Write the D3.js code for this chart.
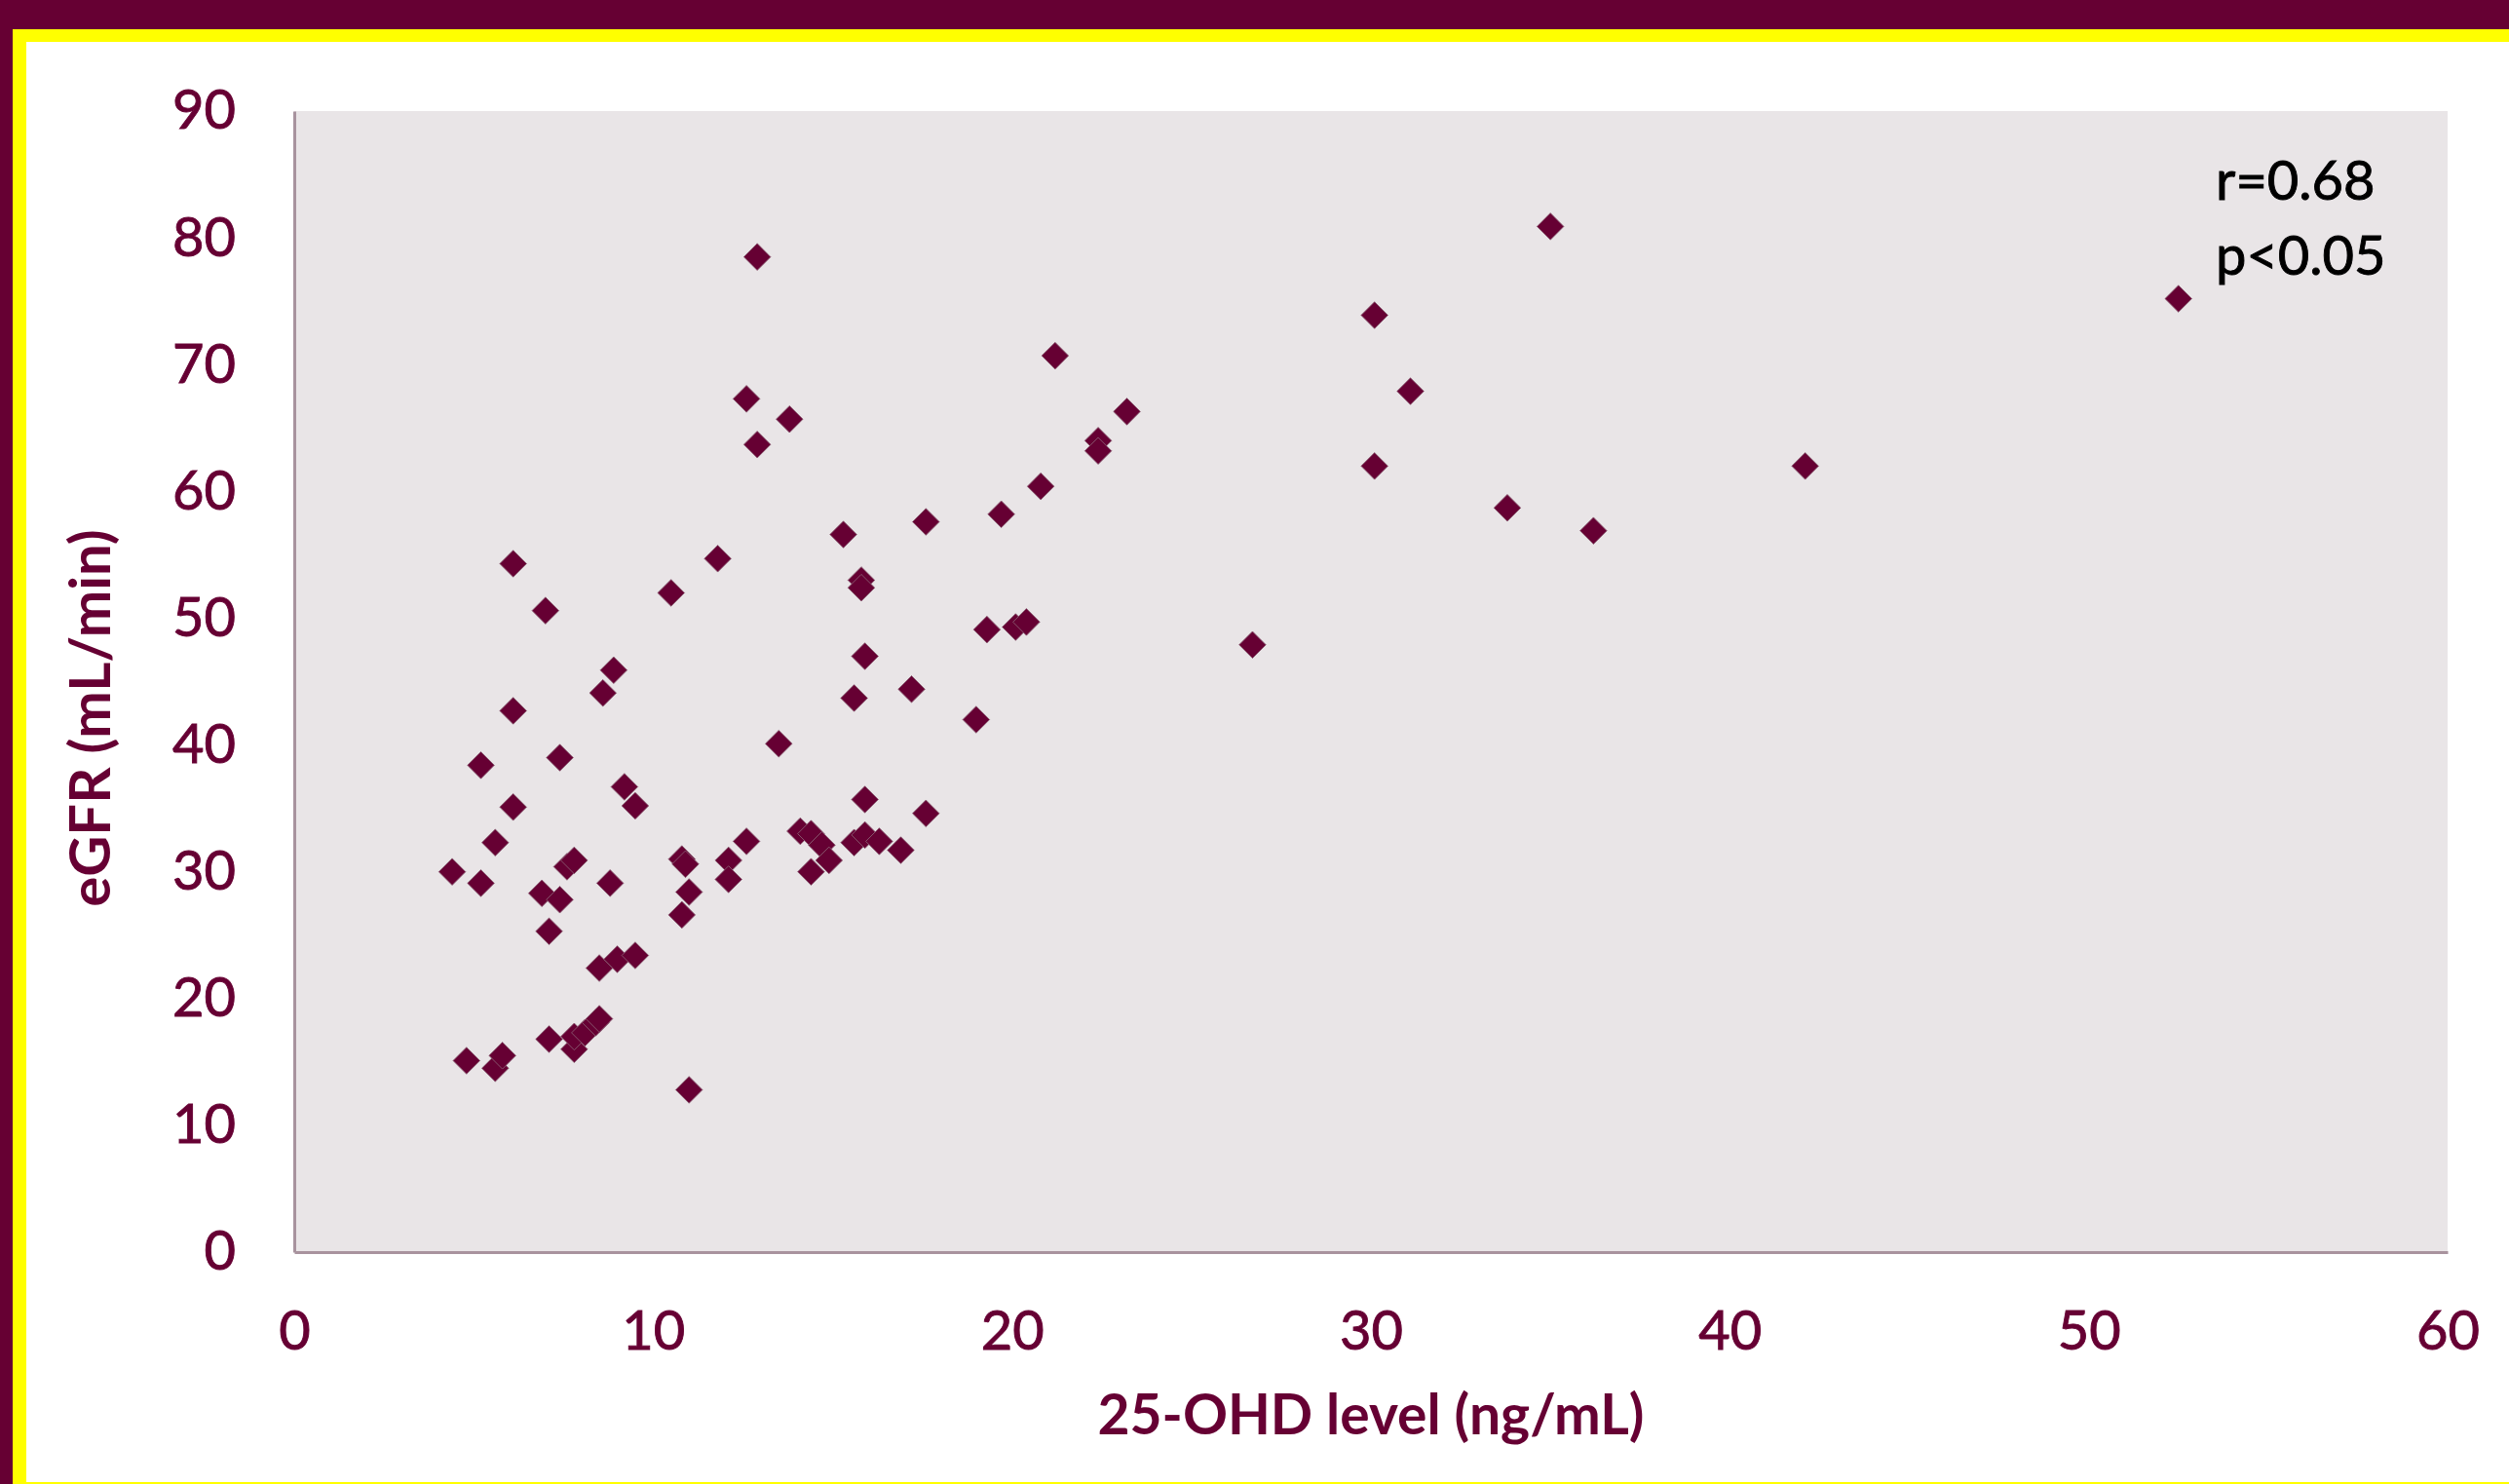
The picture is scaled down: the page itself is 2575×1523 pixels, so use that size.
<!DOCTYPE html>
<html>
<head>
<meta charset="utf-8">
<script src="https://cdn.jsdelivr.net/npm/d3@7"></script>
<style>
  body { margin: 0; background: #660033; }
  svg  { display: block; }
</style>
</head>
<body>
<svg id="chart"></svg>
<script>
// ── Data ─────────────────────────────────────────────
const ohdLevel = [
  4.4, 4.8, 5.2, 5.2, 5.6, 5.8, 5.6, 6.1, 6.1, 6.1,
  7.0, 6.9, 7.1, 7.1, 7.4, 7.4, 7.6, 7.8, 7.8, 7.8,
  8.1, 8.4, 8.5, 8.5, 8.8, 8.6, 8.9, 9.0, 9.2, 9.5,
  9.5, 10.5, 10.8, 10.9, 11.0, 10.8, 11.0, 11.8, 12.1, 12.1,
  12.6, 12.6, 12.9, 12.9, 13.5, 13.8, 14.1, 14.4, 14.7, 14.9,
  14.4, 15.3, 15.6, 15.6, 15.9, 15.8, 15.8, 15.9, 15.9, 16.3,
  16.9, 17.2, 17.6, 17.6, 19.0, 19.3, 19.7, 20.1, 20.4, 20.8,
  21.2, 22.4, 22.4, 23.2, 26.7, 30.1, 30.1, 31.1, 33.8, 35.0,
  36.2, 42.1, 52.5
];
const egfrValue = [
  30.0, 15.1, 29.1, 38.4, 14.5, 15.5, 32.3, 35.1, 42.7, 54.3,
  50.6, 28.3, 25.3, 16.8, 39.0, 27.8, 30.4, 30.9, 16.0, 17.0,
  17.3, 18.1, 18.4, 22.4, 29.1, 44.1, 45.9, 23.1, 36.7, 35.2,
  23.4, 52.0, 31.0, 30.6, 28.4, 26.6, 12.8, 54.7, 30.9, 29.4,
  32.4, 67.3, 78.5, 63.7, 40.1, 65.7, 33.2, 33.0, 32.1, 30.9,
  30.0, 56.6, 43.7, 32.3, 32.9, 53.0, 52.4, 47.0, 35.7, 32.4,
  31.7, 44.4, 34.6, 57.6, 42.0, 49.1, 58.2, 49.3, 49.7, 60.4,
  70.7, 64.0, 63.2, 66.3, 47.9, 73.9, 62.0, 67.9, 58.7, 80.9,
  56.9, 62.0, 75.2
];
const xTicks = [0, 10, 20, 30, 40, 50, 60];
const yTicks = [0, 10, 20, 30, 40, 50, 60, 70, 80, 90];
const statLines = ['r=0.68', 'p<0.05'];
const xTitle = '25-OHD level (ng/mL)';
const yTitle = 'eGFR (mL/min)';

// ── Layout ───────────────────────────────────────────
const W = 2575, H = 1523;
const plot = { left: 302, right: 2512, top: 114, bottom: 1285 };
const MAROON = '#660033';
const FONT = 'Lato, "Open Sans", sans-serif';
const FS = 56;

const svg = d3.select('#chart').attr('width', W).attr('height', H);

// frame: maroon page, yellow border, white card
svg.append('rect').attr('width', W).attr('height', H).attr('fill', MAROON);
svg.append('rect').attr('x', 13).attr('y', 30).attr('width', W - 13).attr('height', H - 30)
  .attr('fill', '#ffff00');
svg.append('rect').attr('x', 27).attr('y', 43).attr('width', W - 27).attr('height', 1521 - 43)
  .attr('fill', '#ffffff');

// plot area
svg.append('rect')
  .attr('x', plot.left).attr('y', plot.top)
  .attr('width', plot.right - plot.left).attr('height', plot.bottom - plot.top)
  .attr('fill', '#e9e5e7');

const x = d3.scaleLinear().domain([0, 60]).range([plot.left, plot.right]);
const y = d3.scaleLinear().domain([0, 90]).range([plot.bottom, plot.top]);

// ── Axes ─────────────────────────────────────────────
// Lato regular is lighter than the original face, so thicken it a touch
function styleAxis(g) {
  g.select('.domain').attr('stroke', '#a8939e').attr('stroke-width', 3);
  g.selectAll('.tick line').remove();
  g.selectAll('.tick text')
    .attr('fill', MAROON)
    .attr('stroke', MAROON)
    .attr('stroke-width', 0.9)
    .attr('font-size', FS)
    .attr('font-family', FONT);
}

svg.append('g')
  .attr('transform', `translate(0,${plot.bottom})`)
  .call(d3.axisBottom(x).tickValues(xTicks).tickSize(0).tickPadding(60).tickFormat(d3.format('d')))
  .call(styleAxis);

svg.append('g')
  .attr('transform', `translate(${plot.left},0)`)
  .call(d3.axisLeft(y).tickValues(yTicks).tickSize(0).tickPadding(60).tickFormat(d3.format('d')))
  .call(styleAxis);

// axis titles
svg.append('text')
  .attr('x', (plot.left + plot.right) / 2)
  .attr('y', 1472)
  .attr('text-anchor', 'middle')
  .attr('fill', MAROON)
  .attr('font-size', 57)
  .attr('font-weight', 'bold')
  .attr('font-family', FONT)
  .text(xTitle);

svg.append('text')
  .attr('transform', `translate(113,737) rotate(-90)`)
  .attr('text-anchor', 'middle')
  .attr('fill', MAROON)
  .attr('font-size', 58)
  .attr('font-weight', 'bold')
  .attr('font-family', FONT)
  .text(yTitle);

// ── Points ───────────────────────────────────────────
const points = ohdLevel.map((v, i) => ({ ohd: v, egfr: egfrValue[i] }));
const diamond = d3.symbol().type(d3.symbolSquare).size(380);

svg.append('g')
  .selectAll('path')
  .data(points)
  .join('path')
    .attr('transform', d => `translate(${x(d.ohd)},${y(d.egfr)}) rotate(45)`)
    .attr('d', diamond)
    .attr('fill', MAROON)
    .attr('stroke', '#8c6176')
    .attr('stroke-width', 0.8);

// ── Correlation note ─────────────────────────────────
svg.append('g')
  .selectAll('text')
  .data(statLines)
  .join('text')
    .attr('x', 2274)
    .attr('y', (d, i) => 205 + i * 77)
    .attr('fill', '#000000')
    .attr('stroke', '#000000')
    .attr('stroke-width', 0.9)
    .attr('font-size', FS)
    .attr('font-family', FONT)
    .text(d => d);
</script>
</body>
</html>
